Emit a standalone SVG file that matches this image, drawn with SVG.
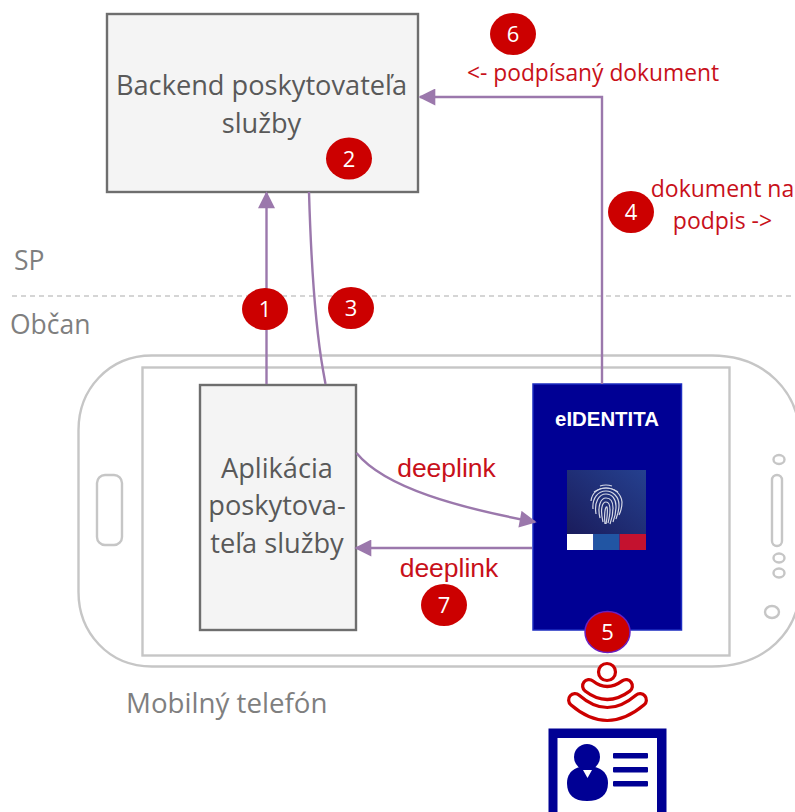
<svg xmlns="http://www.w3.org/2000/svg" width="795" height="812" viewBox="0 0 795 812">
<style>
text{font-family:"Open Sans","Noto Sans",sans-serif}
.box{fill:#f4f4f4;stroke:#6e6e6e;stroke-width:2.4}
.lbl{font-size:27.200px;fill:#595959;text-anchor:middle}
.side{font-size:26.500px;fill:#7f7f7f}
.red{font-size:26.500px;fill:#c8101a;text-anchor:middle;font-family:"Liberation Sans",sans-serif}
.redf{font-size:23px;fill:#c8101a;text-anchor:middle}
.num{font-size:22px;fill:#fff;text-anchor:middle}
.badge{fill:#cc0000}
.con{fill:none;stroke:#9b78ac;stroke-width:2.4}
.ph{fill:none;stroke:#c6c6c6;stroke-width:2.4}
.wo{fill:none;stroke:#cc0000;stroke-width:16;stroke-linecap:round}
.wi{fill:none;stroke:#fff;stroke-width:9.500;stroke-linecap:round}
</style>
<defs>
<marker id="arr" viewBox="0 0 10 10" refX="9" refY="5" markerWidth="21" markerHeight="17" markerUnits="userSpaceOnUse" orient="auto"><path d="M0 0L10 5L0 10z" fill="#9b78ac"/></marker>
<linearGradient id="fp" x1="0" y1="1" x2="1" y2="0"><stop offset="0" stop-color="#1a1c5c"/><stop offset="1" stop-color="#25408f"/></linearGradient>
</defs>
<g id="separator"><line x1="12" y1="296" x2="795" y2="296" stroke="#c8c8c8" stroke-width="1.600" stroke-dasharray="5 4"/></g>
<g id="phone">
<path class="ph" d="M152 355.500H712C765 355.500 800 392 800 440V585C800 632 765 666.500 712 666.500H152C108 666.500 78.500 632 78.500 592V430C78.500 390 108 355.500 152 355.500Z"/>
<rect class="ph" x="142.500" y="367.500" width="587" height="288"/>
<rect class="ph" x="97" y="475" width="25" height="70" rx="8"/>
<rect class="ph" x="772" y="475" width="10" height="71" rx="5"/>
<ellipse class="ph" cx="779" cy="459.500" rx="5.500" ry="4.500"/>
<ellipse class="ph" cx="779" cy="558" rx="5.500" ry="4.500"/>
<ellipse class="ph" cx="779" cy="573" rx="5.500" ry="4.500"/>
<ellipse class="ph" cx="772" cy="612" rx="7" ry="6"/>
</g>
<g id="backend"><rect class="box" x="107" y="14" width="311" height="178"/>
<text class="lbl" x="261.500" y="95">Backend poskytovateľa</text><text class="lbl" x="261.500" y="133">služby</text></g>
<g id="app"><rect class="box" x="200" y="385" width="156" height="245"/>
<text class="lbl" x="277" y="478">Aplikácia</text><text class="lbl" x="277" y="515">poskytova-</text><text class="lbl" x="277" y="553">teľa služby</text></g>
<g id="eidentita"><rect x="533" y="384" width="148.500" height="246" fill="#000094" stroke="#1c2cc0" stroke-width="1.500"/>
<text x="607" y="425.500" font-size="20.400" font-weight="700" fill="#fff" text-anchor="middle" style="font-family:'Liberation Sans',sans-serif">eIDENTITA</text>
<rect x="567" y="470" width="79" height="64" fill="url(#fp)"/>
<rect x="567" y="534" width="26.300" height="16" fill="#fff"/><rect x="593.300" y="534" width="26.300" height="16" fill="#2155a3"/><rect x="619.600" y="534" width="26.400" height="16" fill="#c4122f"/>
<g fill="none" stroke="#d5d8e6" stroke-width="1.200">
<path d="M600 486Q606 484 612 486"/>
<path d="M594 492Q606 484 618 492"/>
<path d="M591 501C592 492 599 488 606 488C614 488 621 493 622 502C622 507 621 511 619 515"/>
<path d="M593 509C592 498 598 491 606 491C613 491 619 497 619 505C619 510 618 514 616 519"/>
<path d="M596 514C594 502 599 494 606 494C612 494 616 499 616 506C616 512 615 517 613 522"/>
<path d="M600 518C597 506 601 498 606 498C611 498 613 502 613 508C613 514 612 519 610 524"/>
<path d="M603 522C600 510 602 502 606 502C609 502 610 506 610 510C610 515 609 519 608 523"/>
<path d="M605 524C604 515 605 506 607 507C608 511 607 518 606 524"/>
</g></g>
<g id="card"><rect x="548.500" y="728.500" width="118" height="92" fill="#000094"/>
<rect x="557.500" y="738" width="99.500" height="80" fill="#fff"/>
<circle cx="587" cy="757" r="13" fill="#000094"/>
<path d="M567 783C567 771 577 766 587 766C598 766 608 771 608 783C608 795 600 801 587 801C574 801 567 795 567 783Z" fill="#000094"/>
<path d="M583 770H592L587.500 778Z" fill="#fff"/>
<rect x="613" y="753" width="35" height="5.500" rx="1" fill="#000094"/><rect x="613" y="767" width="35" height="5.500" rx="1" fill="#000094"/><rect x="613" y="781" width="35" height="5.500" rx="1" fill="#000094"/></g>
<g id="waves"><circle cx="607" cy="672" r="8.500" fill="#fff" stroke="#cc0000" stroke-width="3.200"/>
<path class="wo" d="M589 686Q607 700 626 686"/><path class="wi" d="M589 686Q607 700 626 686"/>
<path class="wo" d="M575 700Q607 728 640 700"/><path class="wi" d="M575 700Q607 728 640 700"/></g>
<g id="connectors">
<line class="con" x1="266.500" y1="384" x2="266.500" y2="193" marker-end="url(#arr)"/>
<path class="con" d="M602 384V97H420" marker-end="url(#arr)"/>
<path class="con" d="M309 192C311 260 316 330 323 370L325.500 384"/>
<path class="con" d="M356.500 453C385 488 460 508 535 522" marker-end="url(#arr)"/>
<line class="con" x1="532" y1="548" x2="356" y2="548" marker-end="url(#arr)"/>
</g>
<g id="badges">
<ellipse class="badge" cx="265" cy="309" rx="23" ry="21"/><text class="num" x="265" y="317">1</text>
<ellipse class="badge" cx="349" cy="158.500" rx="23" ry="21"/><text class="num" x="349" y="166.500">2</text>
<ellipse class="badge" cx="351" cy="308" rx="23" ry="21"/><text class="num" x="351" y="316">3</text>
<ellipse class="badge" cx="631" cy="212" rx="23" ry="21"/><text class="num" x="631" y="220">4</text>
<ellipse class="badge" cx="607.500" cy="632" rx="22.500" ry="20.500" stroke="#6a1fc0" stroke-width="1.500"/><text class="num" x="607.500" y="640">5</text>
<ellipse class="badge" cx="513" cy="34" rx="23" ry="21"/><text class="num" x="513" y="42">6</text>
<ellipse class="badge" cx="444" cy="605" rx="23" ry="21"/><text class="num" x="444" y="613">7</text>
</g>
<g id="labels">
<text class="side" x="14" y="270">SP</text>
<text class="side" x="10" y="334">Občan</text>
<text class="side" x="126" y="713" style="font-size:27.700px">Mobilný telefón</text>
<text class="red" x="446.500" y="477">deeplink</text>
<text class="red" x="449" y="577">deeplink</text>
<text class="redf" x="593" y="81" style="font-size:22.800px">&lt;- podpísaný dokument</text>
<text class="redf" x="722.500" y="197">dokument na</text>
<text class="redf" x="722.500" y="229">podpis -&gt;</text>
</g>
</svg>
